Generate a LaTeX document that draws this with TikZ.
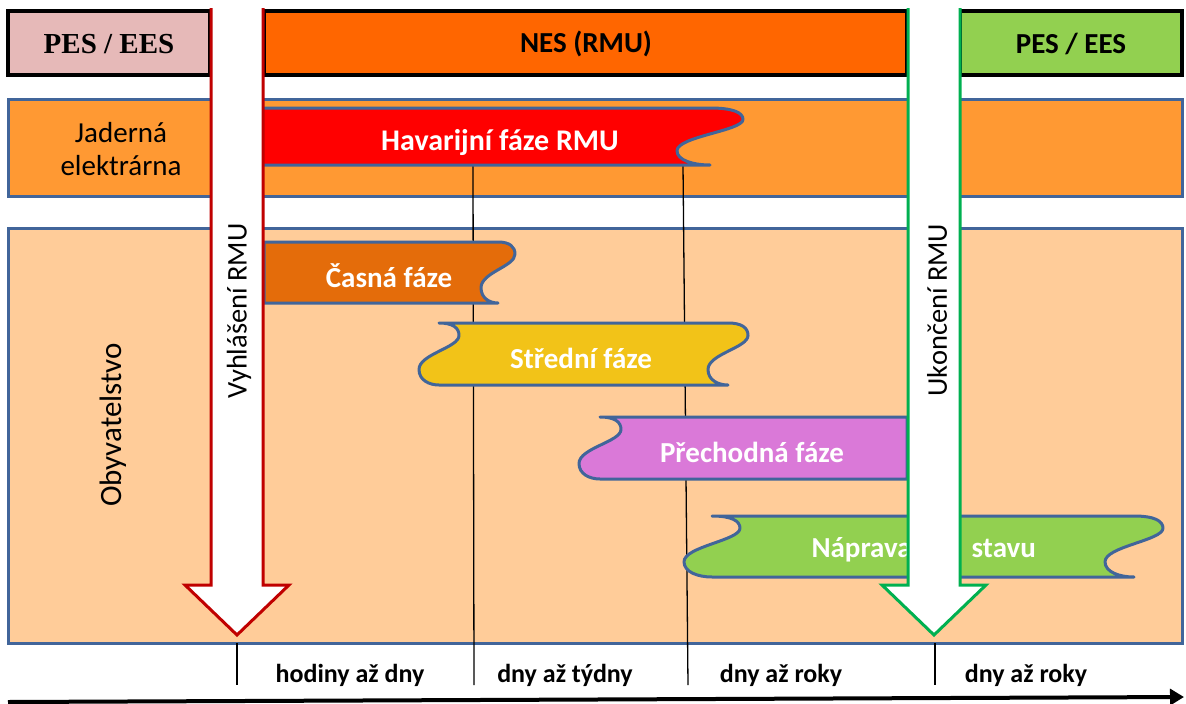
\documentclass[tikz,border=0pt]{standalone}
\usepackage{fontspec}
\setmainfont{Carlito}
\newfontfamily\serifb{Liberation Serif}
\usetikzlibrary{arrows.meta}
\definecolor{pesL}{HTML}{E6B9B8}
\definecolor{nes}{HTML}{FF6600}
\definecolor{pesR}{HTML}{92D050}
\definecolor{jad}{HTML}{FF9933}
\definecolor{oby}{HTML}{FFCC99}
\definecolor{bandblue}{HTML}{41659A}
\definecolor{havred}{HTML}{FF0000}
\definecolor{casna}{HTML}{E46C0A}
\definecolor{stredni}{HTML}{F2C318}
\definecolor{prechodna}{HTML}{DA79D8}
\definecolor{naprava}{HTML}{92D050}
\definecolor{arrred}{HTML}{C00000}
\definecolor{arrgreen}{HTML}{00B050}
\tikzset{
  wdown/.style n args={4}{insert path={ .. controls ({#1+0.7*#4},{#2}) and ({#1+#4},{#2+0.08*(#3-#2)}) .. ({#1+#4},{#2+0.2*(#3-#2)}) .. controls ({#1+#4},{#2+0.4*(#3-#2)}) and ({#1-#4},{#2+0.5*(#3-#2)}) .. ({#1-#4},{#2+0.75*(#3-#2)}) .. controls ({#1-#4},{#2+0.92*(#3-#2)}) and ({#1-0.5*#4},{#3}) .. ({#1},{#3}) }},
  wup/.style n args={4}{insert path={ .. controls ({#1-0.5*#4},{#3}) and ({#1-#4},{#2+0.92*(#3-#2)}) .. ({#1-#4},{#2+0.75*(#3-#2)}) .. controls ({#1-#4},{#2+0.5*(#3-#2)}) and ({#1+#4},{#2+0.4*(#3-#2)}) .. ({#1+#4},{#2+0.2*(#3-#2)}) .. controls ({#1+#4},{#2+0.08*(#3-#2)}) and ({#1+0.7*#4},{#2}) .. ({#1},{#2}) }},
  topbox/.style={draw=black, line width=3.5pt},
  band/.style={draw=bandblue, line width=3pt},
  banner/.style={draw=bandblue, line width=3pt, line join=round},
  btext/.style={text=white, font=\bfseries\fontsize{29}{34}\selectfont},
  tline/.style={draw=black, line width=1.3pt},
  bigarrow/.style={fill=white, line width=3pt, line join=miter},
  arrtext/.style={rotate=90, font=\fontsize{28.5}{34}\selectfont},
  timetext/.style={font=\bfseries\fontsize{26}{30}\selectfont, anchor=base},
}
\begin{document}
\begin{tikzpicture}[x=1pt,y=-1pt]
\useasboundingbox (0,0) rectangle (1186,704);
% bands
\path[band, fill=jad] (8,99) rectangle (1182,196);
\path[band, fill=oby] (8,228) rectangle (1182,643);
\node[font=\fontsize{29}{33}\selectfont, align=center] (jaderna) at (121,149) {Jaderná\\elektrárna};
\node[rotate=90, font=\fontsize{31}{34}\selectfont] (oby) at (113,425) {Obyvatelstvo};
% top boxes
\path[topbox, fill=pesL] (8,11) rectangle (210,75);
\path[topbox, fill=nes] (264,11) rectangle (907,75);
\path[topbox, fill=pesR] (960,11) rectangle (1182,75);
\node[font=\serifb\bfseries\fontsize{29}{32}\selectfont] (pes1) at (109,44) {PES / EES};
\node[font=\bfseries\fontsize{29}{32}\selectfont] (nesT) at (586,44) {NES (RMU)};
\node[font=\bfseries\fontsize{29}{32}\selectfont] (pes2) at (1071,44) {PES / EES};
% vertical time lines
\coordinate (l1t) at (473,165); \coordinate (l1b) at (474,685);
\coordinate (l2t) at (683,165); \coordinate (l2b) at (688,685);
\coordinate (l3t) at (237,643); \coordinate (l3b) at (237,685);
\coordinate (l4t) at (935,643); \coordinate (l4b) at (935,685);
\draw[tline] (l1t) -- (l1b);
\draw[tline] (l2t) -- (l2b);
\draw[tline] (l3t) -- (l3b);
\draw[tline] (l4t) -- (l4b);
% banners
\draw[banner, fill=havred] (258,108) -- (710,108) [wdown={710}{108}{165}{33}] -- (258,165) -- cycle;
\node[btext, font=\bfseries\fontsize{30}{34}\selectfont] (hav) at (500,143) {Havarijní fáze RMU};
\draw[banner, fill=casna] (264,242) -- (498,242) [wdown={498}{242}{303}{17}] -- (264,303) -- cycle;
\node[btext] (cas) at (389,276) {Časná fáze};
\draw[banner, fill=stredni] (439,323) -- (728,323) [wdown={728}{323}{385}{20}] -- (439,385) [wup={439}{323}{385}{20}] -- cycle;
\node[btext] (str) at (581,358) {Střední fáze};
\draw[banner, fill=prechodna] (600,417) -- (907,417) -- (907,479) -- (600,479) [wup={600}{417}{479}{21}] -- cycle;
\node[btext] (pre) at (752,452) {Přechodná fáze};
\draw[banner, fill=naprava] (712,516) -- (1134,516) [wdown={1134}{516}{577}{29}] -- (712,577) [wup={712}{516}{577}{28}] -- cycle;
\node[btext, anchor=west] (nap) at (808,550) {Náprava\hspace{60pt}stavu};
% big arrows
\path[bigarrow] (211,8) -- (211,585) -- (185,585) -- (237,635) -- (289,585) -- (263,585) -- (263,8) -- cycle;
\draw[bigarrow, draw=arrred] (211,8) -- (211,585) -- (185,585) -- (237,635) -- (289,585) -- (263,585) -- (263,8);
\node[arrtext] (vyh) at (239,311) {Vyhlášení RMU};
\path[bigarrow] (908,8) -- (908,585) -- (882,585) -- (934,635) -- (986,585) -- (960,585) -- (960,8) -- cycle;
\draw[bigarrow, draw=arrgreen] (908,8) -- (908,585) -- (882,585) -- (934,635) -- (986,585) -- (960,585) -- (960,8);
\node[arrtext] (uko) at (937,310) {Ukončení RMU};
% timeline
\coordinate (ta) at (8,702);
\coordinate (tb) at (1184,697);
\draw[line width=4pt, -{Triangle[length=14pt,width=16pt]}] (ta) -- (tb);
\node[timetext] (t1) at (350,682) {hodiny až dny};
\node[timetext] (t2) at (565,682) {dny až týdny};
\node[timetext] (t3) at (781,682) {dny až roky};
\node[timetext] (t4) at (1026,682) {dny až roky};
\end{tikzpicture}
\end{document}
